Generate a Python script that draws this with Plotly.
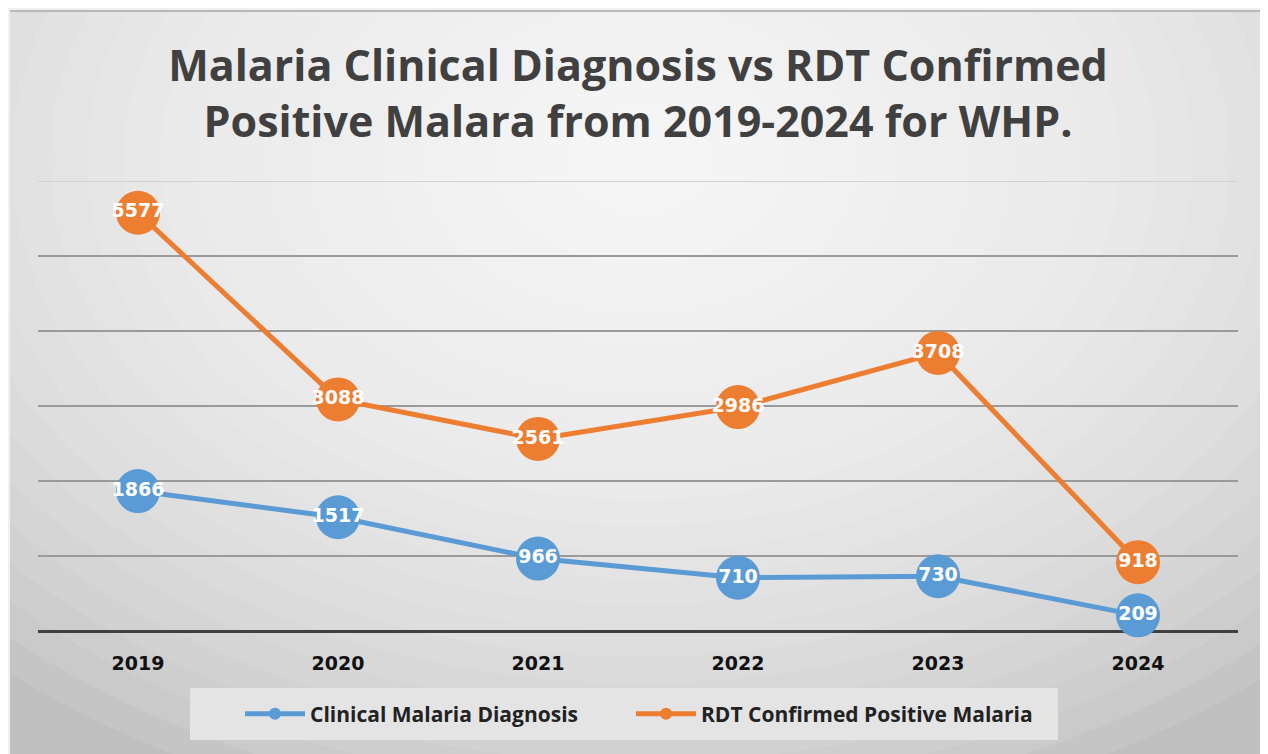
import plotly.graph_objects as go

years = ["2019", "2020", "2021", "2022", "2023", "2024"]
clinical = [1866, 1517, 966, 710, 730, 209]
rdt = [5577, 3088, 2561, 2986, 3708, 918]
series_names = ["Clinical Malaria Diagnosis", "RDT Confirmed Positive Malaria"]
series_colors = ["#5B9BD5", "#ED7D31"]
y_max = 6000

# figure is placed at an 8px body offset in the page
W, H = 1260, 746
L, R, T, B = 30, 30, 173, 123
PW, PH = W - L - R, H - T - B


def px_x(x):  # page x -> paper fraction
    return (x - 8 - L) / PW


def px_y(y):  # page y -> paper fraction
    return (H - B - (y - 8)) / PH


fig = go.Figure()
for name, vals, col, lg in zip(series_names, [clinical, rdt], series_colors,
                               ["legend", "legend2"]):
    fig.add_trace(go.Scatter(
        x=years, y=vals, name=name, mode="lines+markers+text",
        line=dict(color=col, width=5),
        marker=dict(size=44, color=col),
        text=[str(v) for v in vals], textposition="middle center",
        textfont=dict(family="DejaVu Sans", size=19, color="white", weight="bold"),
        cliponaxis=False, legend=lg,
    ))

shapes = []
shapes.append(dict(type="rect", xref="paper", yref="paper", layer="below",
                   x0=px_x(10), x1=px_x(1270), y0=px_y(760), y1=px_y(10),
                   fillcolor="#c0c0c0", line=dict(width=0)))
cx, cy = 640, 160
N = 26
for i in range(N):
    f = 1 - i / N
    rx, ry = 960 * f, 680 * f
    shapes.append(dict(type="circle", xref="paper", yref="paper", layer="below",
                       x0=px_x(cx - rx), x1=px_x(cx + rx),
                       y0=px_y(cy + ry), y1=px_y(cy - ry),
                       fillcolor="white", opacity=0.085, line=dict(width=0)))
shapes.append(dict(type="rect", xref="paper", yref="paper", layer="below",
                   x0=px_x(0), x1=px_x(1270), y0=px_y(10), y1=px_y(0),
                   fillcolor="#f0f0f0", line=dict(width=0)))
shapes.append(dict(type="rect", xref="paper", yref="paper", layer="below",
                   x0=px_x(0), x1=px_x(10), y0=px_y(760), y1=px_y(0),
                   fillcolor="#f0f0f0", line=dict(width=0)))
shapes.append(dict(type="line", xref="paper", yref="paper", layer="below",
                   x0=px_x(10), x1=px_x(1270), y0=px_y(11), y1=px_y(11),
                   line=dict(color="#b8b8b8", width=2)))
shapes.append(dict(type="rect", xref="paper", yref="paper", layer="below",
                   x0=px_x(190), x1=px_x(1058), y0=px_y(740), y1=px_y(688),
                   fillcolor="#e4e4e4", line=dict(width=0)))
# lighter top gridline
shapes.append(dict(type="line", xref="paper", yref="y", layer="below",
                   x0=0, x1=1, y0=y_max, y1=y_max,
                   line=dict(color="#d2d2d2", width=2)))

legend_font = dict(family="Open Sans", size=21, color="#222222", weight="bold")

fig.update_layout(
    width=W, height=H,
    margin=dict(l=L, r=R, t=T, b=B),
    paper_bgcolor="#f0f0f0",
    plot_bgcolor="rgba(0,0,0,0)",
    shapes=shapes,
    title=dict(
        text="Malaria Clinical Diagnosis vs RDT Confirmed<br>Positive Malara from 2019-2024 for WHP.",
        x=0.5, xanchor="center", xref="paper", y=1 - 73 / H, yanchor="middle",
        font=dict(family="Open Sans", size=43, color="#404040", weight="bold"),
    ),
    showlegend=True,
    legend=dict(
        orientation="h", x=px_x(240), xanchor="left", y=px_y(714), yanchor="middle",
        bgcolor="rgba(0,0,0,0)", font=legend_font,
        itemwidth=60, itemsizing="constant",
    ),
    legend2=dict(
        orientation="h", x=px_x(631), xanchor="left", y=px_y(714), yanchor="middle",
        bgcolor="rgba(0,0,0,0)", font=legend_font,
        itemwidth=60, itemsizing="constant",
    ),
    xaxis=dict(
        type="category", range=[-0.5, 5.5], showgrid=False, zeroline=False,
        showline=False, ticks="",
        tickfont=dict(family="DejaVu Sans", size=19, color="#111111", weight="bold"),
        ticklabelstandoff=19,
    ),
    yaxis=dict(
        range=[0, y_max], dtick=1000, showticklabels=False, showgrid=True,
        gridcolor="#9a9a9a", gridwidth=2, zeroline=True, zerolinecolor="#404040",
        zerolinewidth=3,
    ),
)

fig.write_html("out.html")
